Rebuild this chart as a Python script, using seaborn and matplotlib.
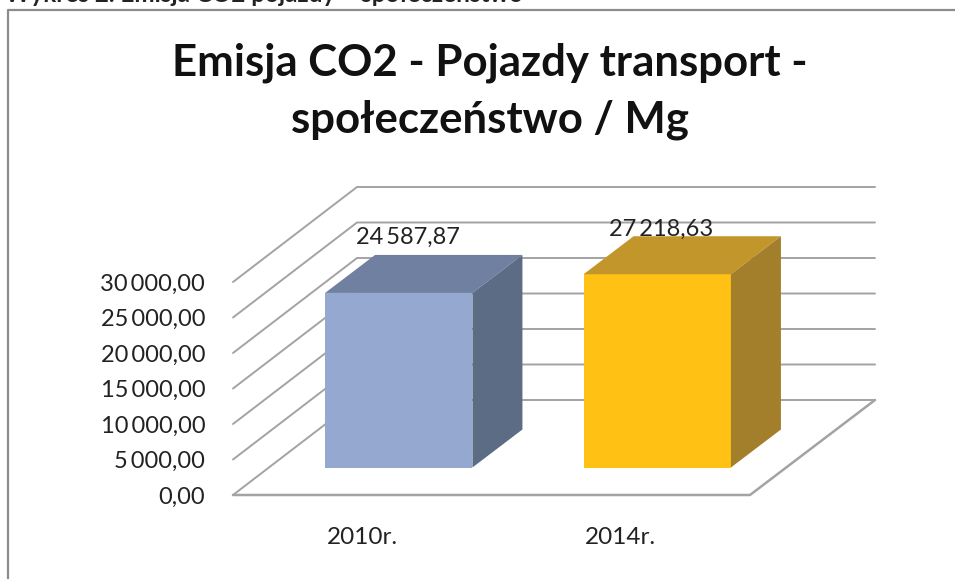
import matplotlib
matplotlib.use("Agg")
import matplotlib.pyplot as plt
import seaborn as sns
from matplotlib.lines import Line2D
from matplotlib.patches import Polygon
from matplotlib.transforms import Affine2D, IdentityTransform

categories = ["2010r.", "2014r."]
values = [24587.87, 27218.63]
value_labels = ["24\u2009587,87", "27\u2009218,63"]
y_ticks = [0, 5000, 10000, 15000, 20000, 25000, 30000]
y_tick_labels = ["0,00", "5\u2009000,00", "10\u2009000,00", "15\u2009000,00",
                 "20\u2009000,00", "25\u2009000,00", "30\u2009000,00"]
title = "Emisja CO2 - Pojazdy transport -\nspołeczeństwo / Mg"
caption = "Wykres 2. Emisja CO2 pojazdy – społeczeństwo"

front_colors = ["#95A9D0", "#FFC114"]
top_colors = ["#6F80A0", "#C3962B"]
side_colors = ["#5C6C85", "#A37E2B"]
grid_color = "#A3A3A3"
W, H = 955, 579

sns.set_theme(style="white")
plt.rcParams["font.family"] = ["Lato", "DejaVu Sans"]

fig = plt.figure(figsize=(W / 100, H / 100), dpi=100)
ax = fig.add_axes([233 / W, (H - 495) / H, 517 / W, 213 / H])

sns.barplot(x=categories, y=values, hue=categories, palette=front_colors,
            saturation=1, width=0.57, legend=False, ax=ax, zorder=3, linewidth=0)
ax.set_xlim(-0.5, 1.5)
ax.set_ylim(0, 30000)
ax.autoscale(False)
ax.patch.set_alpha(0)
sns.despine(ax=ax, left=True, bottom=True)

ax.set_yticks(y_ticks, y_tick_labels, fontsize=17, color="#222222")
ax.tick_params(axis="y", length=0, pad=20)
ax.tick_params(axis="x", length=0, pad=23, labelsize=17.5, labelcolor="#222222")

# pseudo 3D walls and floor, offsets are in pixels
wall_dx, wall_dy = 124, 95
for i, tick in enumerate(y_ticks):
    x0, y0 = ax.transData.transform((-0.5, tick))
    xs = [x0, x0 + wall_dx, x0 + wall_dx + 518]
    ys = [y0, y0 + wall_dy, y0 + wall_dy]
    ax.add_line(Line2D(xs, ys, color=grid_color, lw=1.4, transform=IdentityTransform(),
                       clip_on=False, zorder=1))
x0, y0 = ax.transData.transform((-0.5, 0))
x1, _ = ax.transData.transform((1.5, 0))
ax.add_line(Line2D([x0, x1, x1 + wall_dx + 1], [y0, y0, y0 + wall_dy], color=grid_color, lw=1.8,
                   transform=IdentityTransform(), clip_on=False, zorder=1))

# bars sit a bit back from the front floor edge
shift_x, shift_y = 36.5, 27.5
depth_x, depth_y = 50, 38
bars = [b for c in ax.containers for b in c if b.get_height() > 0]
for i, bar in enumerate(bars):
    left, right = bar.get_x(), bar.get_x() + bar.get_width()
    lx, by = ax.transData.transform((left, 0))
    rx, ty = ax.transData.transform((right, bar.get_height()))
    lx, rx = lx + shift_x, rx + shift_x
    by, ty = by + shift_y, ty + shift_y
    bar.set_transform(ax.transData + Affine2D().translate(shift_x, shift_y))
    bar.set_clip_on(False)
    ax.add_patch(Polygon([(lx, ty), (rx, ty), (rx + depth_x, ty + depth_y), (lx + depth_x, ty + depth_y)],
                         facecolor=top_colors[i], edgecolor="none", transform=IdentityTransform(),
                         clip_on=False, zorder=3))
    ax.add_patch(Polygon([(rx, by), (rx + depth_x, by + depth_y), (rx + depth_x, ty + depth_y), (rx, ty)],
                         facecolor=side_colors[i], edgecolor="none", transform=IdentityTransform(),
                         clip_on=False, zorder=3))

label_offsets = [(33, 60), (29, 52)]
for i, val in enumerate(values):
    ax.annotate(value_labels[i], xy=(i, val), xytext=label_offsets[i], textcoords="offset points",
                ha="center", va="center", fontsize=17, color="#222222", zorder=5,
                annotation_clip=False)

fig.text(490 / W, (H - 91) / H, title, ha="center", va="center", fontsize=31.5, fontweight="bold",
         color="#111111", linespacing=1.5)
fig.text(5 / W, (H - 2) / H, caption, ha="left", va="baseline", fontsize=17.5, fontweight="bold",
         color="#222222")

# chart frame
fig.add_artist(Line2D([7.5 / W, 7.5 / W, 1], [0, (H - 9.5) / H, (H - 9.5) / H], color="#8C8C8C", lw=1.6,
                      transform=fig.transFigure))

fig.savefig("out.png", dpi=100)
